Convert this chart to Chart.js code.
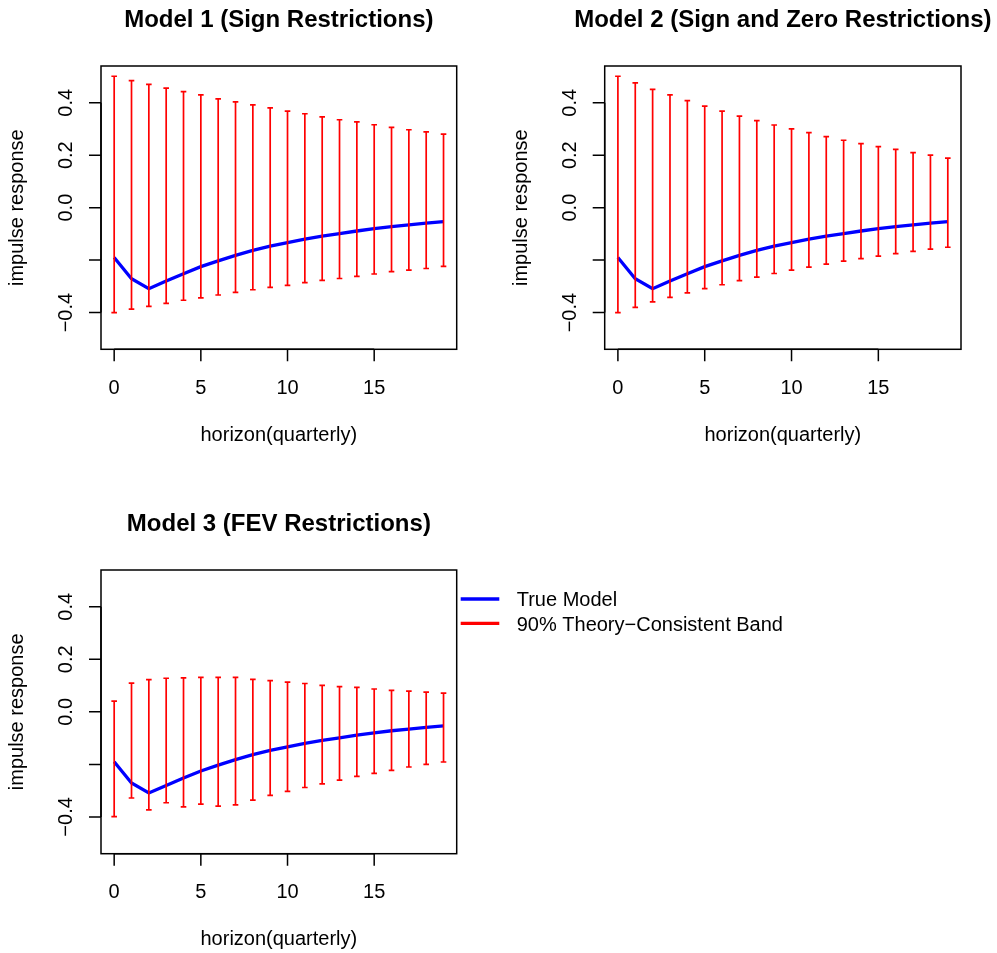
<!DOCTYPE html>
<html>
<head>
<meta charset="utf-8">
<script src="https://cdn.jsdelivr.net/npm/chart.js"></script>
<style>
  body { margin: 0; background: #fff; }
  .panel { position: absolute; }
</style>
</head>
<body>
<div class="panel" style="left:0;top:0;width:498px;height:477px"><canvas id="c1" width="498" height="477"></canvas></div>
<div class="panel" style="left:498px;top:0;width:499px;height:477px"><canvas id="c2" width="499" height="477"></canvas></div>
<div class="panel" style="left:0;top:477px;width:997px;height:476px"><canvas id="c3" width="997" height="476"></canvas></div>

<script>
  // horizon (quarters) et réponse du vrai modèle
  const horizon = [0, 1, 2, 3, 4, 5, 6, 7, 8, 9, 10, 11, 12, 13, 14, 15, 16, 17, 18, 19];
  const trueModel = [-0.190, -0.271, -0.309, -0.280, -0.252, -0.225, -0.203, -0.182, -0.163, -0.147,
                     -0.133, -0.120, -0.109, -0.099, -0.089, -0.080, -0.072, -0.066, -0.059, -0.053];

  // bandes 90% par modèle
  const m1Upper = [0.501, 0.484, 0.470, 0.456, 0.442, 0.430, 0.415, 0.403, 0.392, 0.380,
                   0.368, 0.358, 0.346, 0.335, 0.327, 0.316, 0.306, 0.297, 0.289, 0.280];
  const m1Lower = [-0.400, -0.387, -0.376, -0.365, -0.353, -0.344, -0.333, -0.323, -0.313, -0.304,
                   -0.296, -0.286, -0.277, -0.270, -0.262, -0.253, -0.244, -0.238, -0.232, -0.224];
  const m2Upper = [0.501, 0.476, 0.451, 0.430, 0.408, 0.387, 0.368, 0.349, 0.332, 0.315,
                   0.300, 0.286, 0.271, 0.257, 0.244, 0.233, 0.222, 0.210, 0.200, 0.189];
  const m2Lower = [-0.400, -0.380, -0.359, -0.342, -0.325, -0.309, -0.294, -0.278, -0.265, -0.251,
                   -0.238, -0.227, -0.215, -0.204, -0.194, -0.185, -0.175, -0.167, -0.158, -0.151];
  const m3Upper = [0.041, 0.109, 0.123, 0.128, 0.129, 0.131, 0.131, 0.131, 0.124, 0.119,
                   0.113, 0.108, 0.101, 0.096, 0.093, 0.087, 0.082, 0.079, 0.075, 0.071];
  const m3Lower = [-0.399, -0.328, -0.373, -0.346, -0.362, -0.351, -0.359, -0.354, -0.336, -0.318,
                   -0.303, -0.288, -0.274, -0.260, -0.246, -0.234, -0.223, -0.210, -0.200, -0.191];

  // axes
  const xTicks = [0, 5, 10, 15];
  const yTicks = [-0.4, -0.2, 0.0, 0.2, 0.4];
  const yTickLabels = ['\u22120.4', '', '0.0', '0.2', '0.4'];
  const legendLabels = ['True Model', '90% Theory\u2212Consistent Band'];

  const FONT = '"Liberation Sans", Arial, Helvetica, sans-serif';
  const RED = '#FF0000';
  const BLUE = '#0000FF';

  // cadre, graduations et textes façon R
  const rBase = {
    id: 'rBase',
    beforeDatasetsDraw(chart) {
      const a = chart.chartArea;
      const ctx = chart.ctx;
      ctx.save();
      ctx.strokeStyle = '#000';
      ctx.lineWidth = 1.5;
      ctx.strokeRect(a.left, a.top, a.right - a.left, a.bottom - a.top);
      ctx.restore();
    },
    afterDraw(chart, args, opts) {
      const a = chart.chartArea;
      const ctx = chart.ctx;
      const xs = chart.scales.x;
      const ys = chart.scales.y;
      ctx.save();
      ctx.strokeStyle = '#000';
      ctx.fillStyle = '#000';
      ctx.lineWidth = 1.5;

      // axe x
      ctx.beginPath();
      ctx.moveTo(xs.getPixelForValue(xTicks[0]), a.bottom);
      ctx.lineTo(xs.getPixelForValue(xTicks[xTicks.length - 1]), a.bottom);
      xTicks.forEach(t => {
        const px = xs.getPixelForValue(t);
        ctx.moveTo(px, a.bottom);
        ctx.lineTo(px, a.bottom + 12);
      });
      ctx.stroke();
      ctx.font = '20px ' + FONT;
      ctx.textAlign = 'center';
      ctx.textBaseline = 'alphabetic';
      xTicks.forEach(t => ctx.fillText(String(t), xs.getPixelForValue(t), a.bottom + 44.5));
      ctx.fillText('horizon(quarterly)', (a.left + a.right) / 2, a.bottom + 91.7);

      // axe y
      ctx.beginPath();
      ctx.moveTo(a.left, ys.getPixelForValue(yTicks[0]));
      ctx.lineTo(a.left, ys.getPixelForValue(yTicks[yTicks.length - 1]));
      yTicks.forEach(t => {
        const py = ys.getPixelForValue(t);
        ctx.moveTo(a.left, py);
        ctx.lineTo(a.left - 12, py);
      });
      ctx.stroke();
      yTicks.forEach((t, i) => {
        if (!yTickLabels[i]) return;
        ctx.save();
        ctx.translate(a.left - 29, ys.getPixelForValue(t));
        ctx.rotate(-Math.PI / 2);
        ctx.fillText(yTickLabels[i], 0, 0);
        ctx.restore();
      });
      ctx.save();
      ctx.translate(a.left - 78, (a.top + a.bottom) / 2);
      ctx.rotate(-Math.PI / 2);
      ctx.fillText('impulse response', 0, 0);
      ctx.restore();

      // titre
      ctx.font = 'bold 24px ' + FONT;
      ctx.fillText(opts.title, (a.left + a.right) / 2, a.top - 39.3);

      // légende
      if (opts.legend) {
        const cols = [BLUE, RED];
        ctx.font = '20px ' + FONT;
        ctx.textAlign = 'left';
        legendLabels.forEach((lab, i) => {
          const ly = a.top + 29 + i * 24.3;
          ctx.strokeStyle = cols[i];
          ctx.lineWidth = 3.3;
          ctx.beginPath();
          ctx.moveTo(a.right + 4, ly);
          ctx.lineTo(a.right + 42.6, ly);
          ctx.stroke();
          ctx.fillText(lab, a.right + 60, ly + 7.3);
        });
      }
      ctx.restore();
    }
  };

  function makePanel(id, title, upper, lower, padding, legend) {
    const datasets = [{
      data: horizon.map((h, i) => ({ x: h, y: trueModel[i] })),
      borderColor: BLUE,
      borderWidth: 3.3,
      pointRadius: 0,
      tension: 0,
      order: 2
    }];
    // une barre d'erreur par horizon (segment + chapeaux)
    horizon.forEach((h, i) => {
      datasets.push({
        data: [{ x: h, y: lower[i] }, { x: h, y: upper[i] }],
        borderColor: RED,
        borderWidth: 1.7,
        pointStyle: 'line',
        pointRadius: 2.8,
        pointBorderColor: RED,
        pointBorderWidth: 1.7,
        order: 1
      });
    });

    new Chart(document.getElementById(id), {
      type: 'line',
      data: { datasets },
      options: {
        responsive: false,
        animation: false,
        events: [],
        layout: { padding },
        plugins: {
          legend: { display: false },
          tooltip: { enabled: false },
          rBase: { title, legend }
        },
        scales: {
          x: { type: 'linear', min: -0.76, max: 19.76, display: false },
          y: { type: 'linear', min: -0.54, max: 0.54, display: false }
        }
      },
      plugins: [rBase]
    });
  }

  makePanel('c1', 'Model 1 (Sign Restrictions)', m1Upper, m1Lower,
    { left: 101, top: 66, right: 41.3, bottom: 127.7 }, false);
  makePanel('c2', 'Model 2 (Sign and Zero Restrictions)', m2Upper, m2Lower,
    { left: 106.7, top: 66, right: 36, bottom: 127.7 }, false);
  makePanel('c3', 'Model 3 (FEV Restrictions)', m3Upper, m3Lower,
    { left: 101, top: 93, right: 540.3, bottom: 99.3 }, true);
</script>
</body>
</html>
